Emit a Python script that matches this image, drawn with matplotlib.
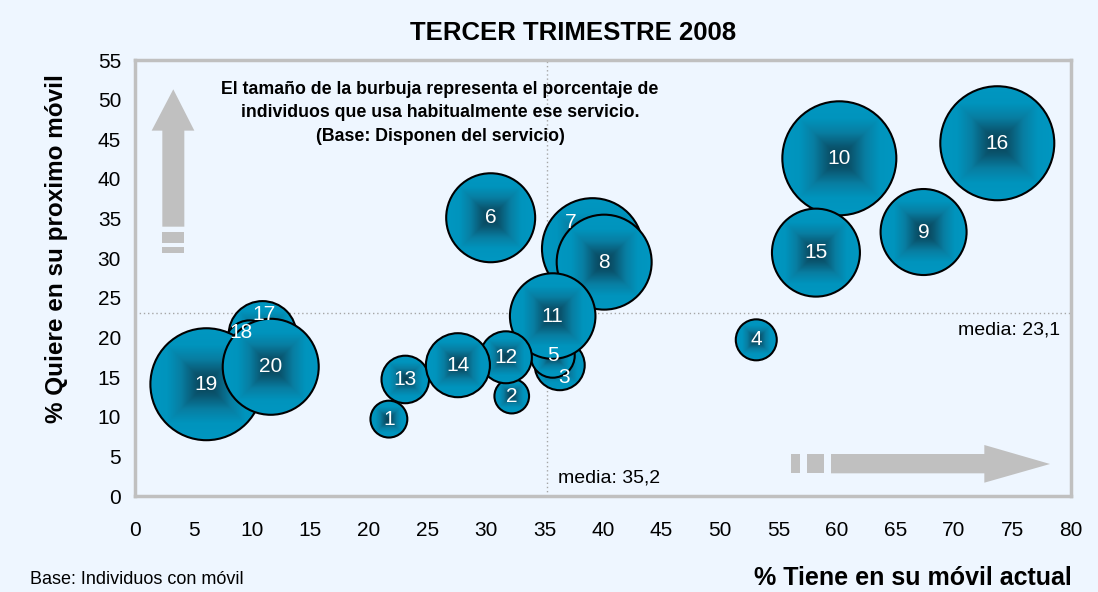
import matplotlib.pyplot as plt
import numpy as np
from matplotlib.patches import Ellipse, Polygon, Rectangle
from matplotlib.colors import LinearSegmentedColormap

plt.rcParams['font.family'] = ['Liberation Sans', 'DejaVu Sans']

# servicios 1..20
ids = list(range(1, 21))
tiene = [21.7, 32.2, 36.3, 53.1, 35.7, 30.4, 39.1, 40.1, 67.4, 60.2,
         35.7, 31.7, 23.1, 27.6, 58.2, 73.7, 10.9, 9.8, 6.1, 11.6]
quiere = [9.7, 12.6, 16.5, 19.7, 17.7, 35.1, 31.2, 29.5, 33.3, 42.6,
          22.7, 17.5, 14.7, 16.5, 30.7, 44.5, 20.3, 19.0, 14.1, 16.3]
uso = [6.8, 6.0, 12.5, 8.4, 9.7, 39.6, 51.0, 45.1, 37.0, 65.0,
       36.6, 13.5, 11.3, 20.5, 38.7, 65.0, 23.1, 12.5, 62.7, 46.1]

media_tiene = 35.2
media_quiere = 23.1

# etiquetas desplazadas a mano (en puntos)
desplaz = {3: (3, -9), 7: (-16, 19), 17: (1, 15), 18: (-6, 9)}

bg = '#EEF6FF'
gris = '#C0C0C0'
W, H = 1098, 592
L, R, T, B = 135, 1071, 60, 496
XMAX, YMAX = 80, 55
RMAX = 57  # radio en px de la burbuja mayor

fig = plt.figure(figsize=(W / 100, H / 100), dpi=100, facecolor=bg)
ax = fig.add_axes([L / W, (H - B) / H, (R - L) / W, (B - T) / H])
ax.set_facecolor(bg)

sx = (R - L) / XMAX
sy = (B - T) / YMAX

# degradado cuadrado desde el centro
cmap = LinearSegmentedColormap.from_list(
    'burbuja', [(0, '#083f53'), (0.2, '#0a5670'), (0.45, '#087ea2'),
                (0.7, '#0094bd'), (1, '#0097c1')])
n = 240
u, v = np.meshgrid(np.linspace(-1, 1, n), np.linspace(-1, 1, n))
img = cmap(np.maximum(np.abs(u), np.abs(v)))

umax = max(uso)
for i, (x, y, s) in enumerate(zip(tiene, quiere, uso)):
    r = RMAX * np.sqrt(s / umax)
    w, h = 2 * r / sx, 2 * r / sy
    z = 3 + 2 * i
    circ = Ellipse((x, y), w, h, facecolor='none', edgecolor='black', lw=1.5, zorder=z + 1)
    ax.add_patch(circ)
    im = ax.imshow(img, extent=[x - w / 2, x + w / 2, y - h / 2, y + h / 2],
                   aspect='auto', zorder=z, interpolation='bilinear')
    im.set_clip_path(circ)

for k, x, y in zip(ids, tiene, quiere):
    dx, dy = desplaz.get(k, (0, 0))
    ax.annotate(str(k), (x, y), xytext=(dx, dy), textcoords='offset points',
                ha='center', va='center', color='white', fontsize=15, zorder=60)

# lineas de media
ax.axvline(media_tiene, color='#A6A6A6', lw=1, ls=(0, (1, 2)), zorder=2)
ax.axhline(media_quiere, color='#A6A6A6', lw=1, ls=(0, (1, 2)), zorder=2)
ax.annotate('media: 35,2', (media_tiene, 0), xytext=(8, 13), textcoords='offset points',
            ha='left', va='center', fontsize=14, zorder=70)
ax.annotate('media: 23,1', (XMAX, media_quiere), xytext=(-8, -12), textcoords='offset points',
            ha='right', va='center', fontsize=14, zorder=70)

# flechas
tr = ax.transAxes
ax.add_patch(Polygon([(0.0292, 0.6177), (0.0292, 0.838), (0.0178, 0.838), (0.0409, 0.9328),
                      (0.0634, 0.838), (0.0527, 0.838), (0.0527, 0.6177)],
                     closed=True, transform=tr, color=gris, lw=0, zorder=1))
ax.add_patch(Rectangle((0.0292, 0.581), 0.0235, 0.025, transform=tr, color=gris, lw=0, zorder=1))
ax.add_patch(Rectangle((0.0292, 0.558), 0.0235, 0.012, transform=tr, color=gris, lw=0, zorder=1))
ax.add_patch(Polygon([(0.7436, 0.052), (0.9074, 0.052), (0.9074, 0.0305), (0.9776, 0.0734),
                      (0.9074, 0.117), (0.9074, 0.0963), (0.7436, 0.0963)],
                     closed=True, transform=tr, color=gris, lw=0, zorder=1))
ax.add_patch(Rectangle((0.7176, 0.052), 0.0188, 0.0443, transform=tr, color=gris, lw=0, zorder=1))
ax.add_patch(Rectangle((0.7009, 0.052), 0.0096, 0.0443, transform=tr, color=gris, lw=0, zorder=1))

ax.text(0.326, 0.879, 'El tamaño de la burbuja representa el porcentaje de\n'
        'individuos que usa habitualmente ese servicio.\n'
        '(Base: Disponen del servicio)',
        transform=tr, ha='center', va='center', fontsize=12.8, fontweight='bold',
        linespacing=1.5, zorder=70)

ax.set_xlim(0, XMAX)
ax.set_ylim(0, YMAX)
ax.set_xticks(range(0, XMAX + 1, 5))
ax.set_yticks(range(0, YMAX + 1, 5))
ax.tick_params(length=0, labelsize=15)
ax.tick_params(axis='x', pad=18)
ax.tick_params(axis='y', pad=10)
for sp in ax.spines.values():
    sp.set_color(gris)
    sp.set_linewidth(2.5)

fig.text(573 / W, 1 - 33 / H, 'TERCER TRIMESTRE 2008', ha='center', va='center',
         fontsize=18.5, fontweight='bold')
fig.text(56 / W, 1 - 249 / H, '% Quiere en su proximo móvil', rotation=90,
         ha='center', va='center', fontsize=17.5, fontweight='bold')
fig.text(1072 / W, 1 - 578 / H, '% Tiene en su móvil actual', ha='right', va='center',
         fontsize=18, fontweight='bold')
fig.text(30 / W, 1 - 580 / H, 'Base: Individuos con móvil', ha='left', va='center',
         fontsize=13)

fig.savefig('out.png', dpi=100, facecolor=bg)
